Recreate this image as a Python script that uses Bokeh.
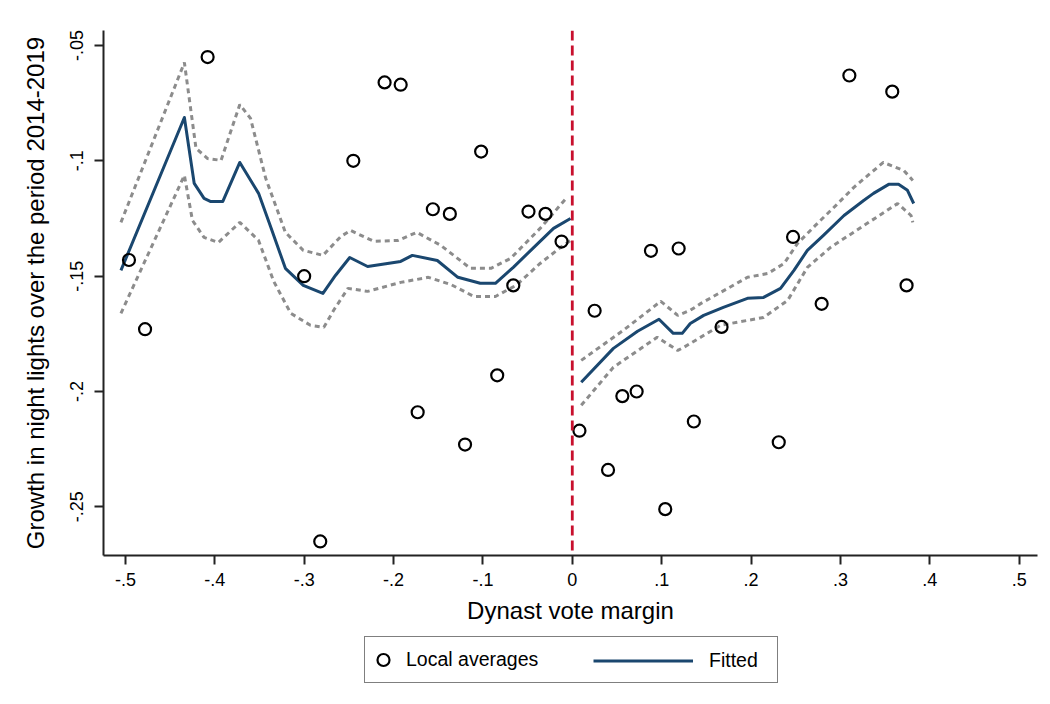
from bokeh.plotting import figure
from bokeh.layouts import column
from bokeh.models import Range1d, FixedTicker, Span, Legend, LegendItem
from bokeh.embed import file_html
from bokeh.resources import INLINE

# ---- data ----
pts_x = [-0.496, -0.478, -0.408, -0.300, -0.282, -0.245, -0.210, -0.192, -0.173, -0.156,
         -0.137, -0.120, -0.102, -0.084, -0.066, -0.049, -0.030, -0.012,
         0.008, 0.025, 0.040, 0.056, 0.072, 0.088, 0.104, 0.119, 0.136, 0.167,
         0.231, 0.247, 0.279, 0.310, 0.358, 0.374]
pts_y = [-0.143, -0.173, -0.055, -0.150, -0.265, -0.100, -0.066, -0.067, -0.209, -0.121,
         -0.123, -0.223, -0.096, -0.193, -0.154, -0.122, -0.123, -0.135,
         -0.217, -0.165, -0.234, -0.202, -0.200, -0.139, -0.251, -0.138, -0.213, -0.172,
         -0.222, -0.133, -0.162, -0.063, -0.070, -0.154]

fitL_x = [-0.505, -0.434, -0.423, -0.412, -0.405, -0.391, -0.372, -0.351, -0.338, -0.321,
          -0.301, -0.279, -0.265, -0.249, -0.229, -0.192, -0.179, -0.151, -0.128, -0.103,
          -0.086, -0.066, -0.043, -0.021, -0.002]
fitL_y = [-0.1475, -0.0812, -0.1098, -0.1163, -0.1176, -0.1176, -0.1007, -0.1141, -0.128, -0.1466,
          -0.154, -0.1575, -0.1497, -0.1419, -0.1458, -0.1436, -0.141, -0.1432, -0.1505, -0.1531,
          -0.1531, -0.1462, -0.1375, -0.1293, -0.125]

upL_x = [-0.505, -0.434, -0.421, -0.408, -0.393, -0.372, -0.360, -0.343, -0.321, -0.301,
         -0.279, -0.259, -0.248, -0.222, -0.195, -0.174, -0.147, -0.114, -0.091, -0.069,
         -0.036, -0.006]
upL_y = [-0.1267, -0.0574, -0.0946, -0.099, -0.0998, -0.0756, -0.0816, -0.1076, -0.131, -0.1388,
         -0.141, -0.1328, -0.1302, -0.1349, -0.1345, -0.131, -0.1367, -0.1466, -0.1466, -0.1423,
         -0.1293, -0.1159]

loL_x = [-0.505, -0.434, -0.425, -0.412, -0.396, -0.372, -0.351, -0.334, -0.315, -0.293,
         -0.278, -0.267, -0.251, -0.229, -0.192, -0.161, -0.136, -0.110, -0.086, -0.063,
         -0.036, -0.013, -0.002]
loL_y = [-0.1661, -0.1063, -0.1258, -0.1332, -0.1354, -0.1267, -0.1345, -0.1523, -0.1661, -0.1713,
         -0.1722, -0.1648, -0.1553, -0.1566, -0.1527, -0.1505, -0.1536, -0.1588, -0.1588, -0.154,
         -0.1445, -0.1375, -0.1345]

fitR_x = [0.010, 0.046, 0.073, 0.097, 0.113, 0.123, 0.132, 0.147, 0.169, 0.196,
          0.214, 0.233, 0.248, 0.263, 0.281, 0.304, 0.326, 0.337, 0.354, 0.365,
          0.375, 0.382]
fitR_y = [-0.196, -0.1813, -0.1739, -0.1687, -0.1748, -0.1748, -0.1705, -0.167, -0.1635, -0.1596,
          -0.1592, -0.1553, -0.1475, -0.1388, -0.1323, -0.1237, -0.1172, -0.1141, -0.1102, -0.1102,
          -0.1128, -0.1185]

upR_x = [0.010, 0.057, 0.099, 0.118, 0.132, 0.144, 0.196, 0.219, 0.237, 0.252,
         0.272, 0.295, 0.315, 0.332, 0.348, 0.371, 0.381]
upR_y = [-0.1865, -0.1735, -0.1609, -0.167, -0.1648, -0.1618, -0.1505, -0.1488, -0.1445, -0.1358,
         -0.128, -0.1193, -0.1115, -0.1059, -0.1007, -0.1042, -0.1085]

loR_x = [0.010, 0.046, 0.095, 0.118, 0.125, 0.166, 0.214, 0.241, 0.263, 0.289,
         0.330, 0.364, 0.379, 0.381]
loR_y = [-0.206, -0.1895, -0.1765, -0.1822, -0.1808, -0.1713, -0.1679, -0.1605, -0.1462, -0.1375,
         -0.1271, -0.1185, -0.1237, -0.1267]

x_ticks = [-0.5, -0.4, -0.3, -0.2, -0.1, 0.0, 0.1, 0.2, 0.3, 0.4, 0.5]
x_tick_labels = ["-.5", "-.4", "-.3", "-.2", "-.1", "0", ".1", ".2", ".3", ".4", ".5"]
y_ticks = [-0.25, -0.2, -0.15, -0.1, -0.05]
y_tick_labels = ["-.25", "-.2", "-.15", "-.1", "-.05"]

cutoff = 0.0

FONT = "Liberation Sans"
BLUE = "#1a476f"
GRAY = "#8c8c8c"
RED = "#c8102e"
AXC = "#222222"

SC_STYLE = dict(marker="circle", size=12, fill_color=None, line_color="black", line_width=2.2)
FIT_STYLE = dict(line_color=BLUE, line_width=3, line_join="round")

p = figure(width=1042, height=630, output_backend="svg", toolbar_location=None,
           x_range=Range1d(-0.5245, 0.5205), y_range=Range1d(-0.2711, -0.0435),
           min_border_left=103, min_border_right=5, min_border_top=30, min_border_bottom=75)
p.outline_line_color = None
p.xgrid.visible = False
p.ygrid.visible = False
p.background_fill_color = "white"
p.border_fill_color = "white"

# axes
p.xaxis.ticker = FixedTicker(ticks=x_ticks)
p.xaxis.major_label_overrides = {t: l for t, l in zip(x_ticks, x_tick_labels)}
p.yaxis.ticker = FixedTicker(ticks=y_ticks)
p.yaxis.major_label_overrides = {t: l for t, l in zip(y_ticks, y_tick_labels)}
p.yaxis.major_label_orientation = "vertical"
for ax in (p.xaxis, p.yaxis):
    ax.axis_line_color = AXC
    ax.axis_line_width = 2
    ax.major_tick_line_color = AXC
    ax.major_tick_line_width = 2
    ax.major_tick_out = 9
    ax.major_tick_in = 0
    ax.minor_tick_line_color = None
    ax.major_label_text_font = FONT
    ax.major_label_text_font_size = "18px"
    ax.major_label_text_color = "black"
    ax.axis_label_text_font = FONT
    ax.axis_label_text_font_style = "normal"
    ax.axis_label_text_color = "black"
p.xaxis.major_label_standoff = 8
p.yaxis.major_label_standoff = 11
p.xaxis.axis_label = "Dynast vote margin"
p.xaxis.axis_label_text_font_size = "24px"
p.xaxis.axis_label_standoff = 8
p.yaxis.axis_label = "Growth in night lights over the period 2014-2019"
p.yaxis.axis_label_text_font_size = "24px"
p.yaxis.axis_label_standoff = 19

# confidence bands
for xs, ys in ((upL_x, upL_y), (loL_x, loL_y), (upR_x, upR_y), (loR_x, loR_y)):
    p.line(xs, ys, line_color=GRAY, line_width=3, line_dash="5 4")

# fitted
p.line(fitL_x, fitL_y, **FIT_STYLE)
p.line(fitR_x, fitR_y, **FIT_STYLE)

# local averages
p.scatter(pts_x, pts_y, **SC_STYLE)

# cutoff line
p.add_layout(Span(location=cutoff, dimension="height", line_color=RED,
                  line_width=2.8, line_dash="10 5"))

# ---- legend strip below the plot (its frame is aligned with the main frame) ----
lg = figure(width=1042, height=66, output_backend="svg", toolbar_location=None,
            x_range=Range1d(5, 6), y_range=Range1d(5, 6),
            min_border_left=0, min_border_right=0, min_border_top=0, min_border_bottom=0)
lg.axis.visible = False
lg.xgrid.visible = False
lg.ygrid.visible = False
lg.outline_line_color = None
lg.background_fill_color = "white"
lg.border_fill_color = "white"
# same series re-drawn outside the visible range: only used for legend swatches
sc_key = lg.scatter(pts_x, pts_y, **SC_STYLE)
fit_key = lg.line(fitL_x, fitL_y, **FIT_STYLE)

legA = Legend(items=[LegendItem(label="Local averages", renderers=[sc_key])],
              location=(261, 13), orientation="horizontal",
              padding=3, margin=0, spacing=0,
              glyph_width=30, glyph_height=39, label_height=39, label_width=368,
              label_standoff=8, border_line_color="black", border_line_width=1.5,
              background_fill_color="white", background_fill_alpha=1,
              label_text_font=FONT, label_text_font_size="19.5px",
              label_text_color="black")
legB = Legend(items=[LegendItem(label="Fitted", renderers=[fit_key])],
              location=(490, 16), orientation="horizontal",
              padding=0, margin=0, spacing=0,
              glyph_width=100, glyph_height=39, label_height=39,
              label_standoff=16, border_line_color=None,
              background_fill_alpha=0,
              label_text_font=FONT, label_text_font_size="19.5px",
              label_text_color="black")
lg.add_layout(legA)
lg.add_layout(legB)

layout = column(p, lg, spacing=0)
open("out.html", "w").write(file_html(layout, INLINE))
